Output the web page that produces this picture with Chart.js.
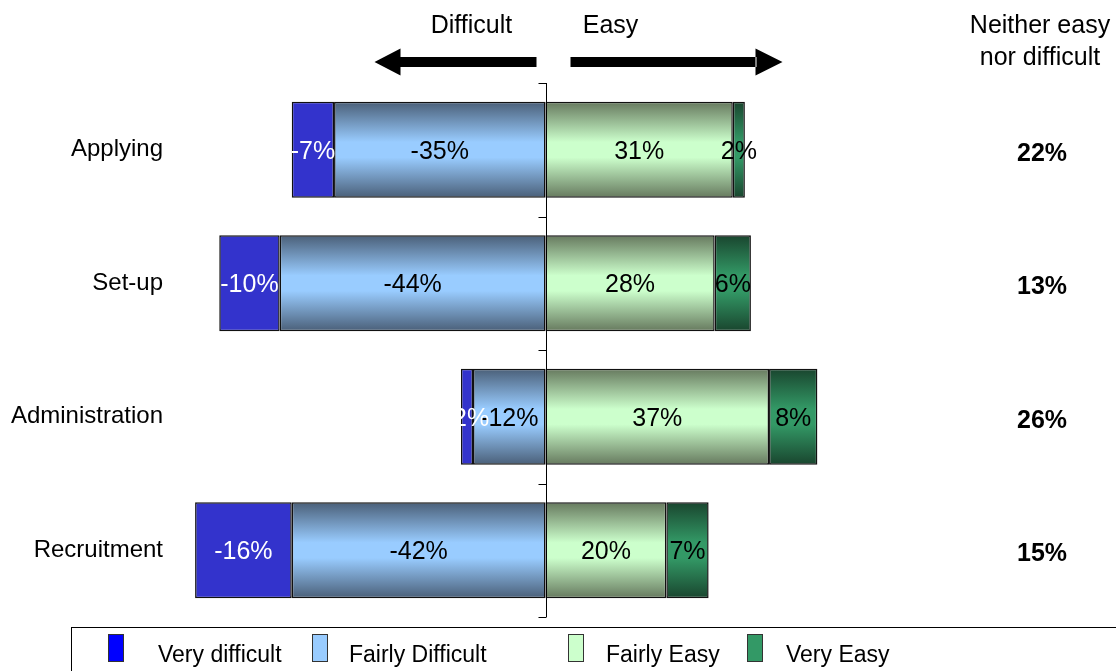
<!DOCTYPE html>
<html>
<head>
<meta charset="utf-8">
<script src="https://cdn.jsdelivr.net/npm/chart.js@4.4.1/dist/chart.umd.min.js"></script>
<style>
  html, body { margin: 0; padding: 0; background: #fff; }
  canvas { display: block; }
</style>
</head>
<body>
<canvas id="ratingChart" width="1116" height="671"></canvas>
<script>
var categories = ['Applying', 'Set-up', 'Administration', 'Recruitment'];
var veryDifficult = [-7, -10, -2, -16];
var fairlyDifficult = [-35, -44, -12, -42];
var fairlyEasy = [31, 28, 37, 20];
var veryEasy = [2, 6, 8, 7];
var neither = [22, 13, 26, 15];
var legendLabels = ['Very difficult', 'Fairly Difficult', 'Fairly Easy', 'Very Easy'];

var FONT = '"Liberation Sans", Arial, sans-serif';
var BAR_PCT = 0.72;

// vertical shading: dark at the bar edges, light band through the middle
function bandFill(dark, light) {
    return function (ctx) {
        var chart = ctx.chart;
        var y = chart.scales.y;
        if (!y || ctx.dataIndex === undefined || !chart.chartArea) return light;
        var c = y.getPixelForValue(ctx.dataIndex);
        var h = Math.abs(y.getPixelForValue(1) - y.getPixelForValue(0)) * BAR_PCT;
        var g = chart.ctx.createLinearGradient(0, c - h / 2, 0, c + h / 2);
        g.addColorStop(0, dark);
        g.addColorStop(0.42, light);
        g.addColorStop(0.58, light);
        g.addColorStop(1, dark);
        return g;
    };
}

// inner segments first so they stack next to zero
var datasets = [
    { label: legendLabels[1], data: fairlyDifficult, backgroundColor: bandFill('#4a5f78', '#99ccff'), legendColor: '#99ccff', textColor: '#000' },
    { label: legendLabels[0], data: veryDifficult, backgroundColor: '#3333cc', legendColor: '#0000ff', textColor: '#fff' },
    { label: legendLabels[2], data: fairlyEasy, backgroundColor: bandFill('#66795e', '#ccffcc'), legendColor: '#ccffcc', textColor: '#000' },
    { label: legendLabels[3], data: veryEasy, backgroundColor: bandFill('#19452e', '#339966'), legendColor: '#339966', textColor: '#000' }
];
datasets.forEach(function (d) {
    d.borderColor = '#111';
    d.borderWidth = 1.5;
    d.borderSkipped = false;
    d.categoryPercentage = 1;
    d.barPercentage = BAR_PCT;
});

var decorations = {
    id: 'decorations',
    afterDatasetsDraw: function (chart) {
        var ctx = chart.ctx;
        var x = chart.scales.x, y = chart.scales.y;
        var zero = Math.round(x.getPixelForValue(0)) + 0.5;
        var area = chart.chartArea;
        var step = (area.bottom - area.top) / categories.length;

        // centre axis with ticks between categories
        ctx.save();
        ctx.strokeStyle = '#000';
        ctx.lineWidth = 1;
        ctx.beginPath();
        ctx.moveTo(zero, area.top);
        ctx.lineTo(zero, area.bottom);
        for (var k = 0; k <= categories.length; k++) {
            var ty = Math.round(area.top + k * step) + 0.5;
            ctx.moveTo(zero - 8, ty);
            ctx.lineTo(zero, ty);
        }
        ctx.stroke();

        // segment value labels
        ctx.font = '25px ' + FONT;
        ctx.textAlign = 'center';
        ctx.textBaseline = 'middle';
        chart.data.datasets.forEach(function (ds, di) {
            var meta = chart.getDatasetMeta(di);
            ctx.fillStyle = ds.textColor;
            meta.data.forEach(function (bar, i) {
                ctx.fillText(ds.data[i] + '%', (bar.x + bar.base) / 2, bar.y + 2);
            });
        });

        // neither easy nor difficult column
        ctx.font = 'bold 25px ' + FONT;
        ctx.fillStyle = '#000';
        neither.forEach(function (v, i) {
            ctx.fillText(v + '%', 1042, y.getPixelForValue(i) + 4);
        });
        ctx.font = '25px ' + FONT;
        ctx.fillText('Neither easy', 1040, 26);
        ctx.fillText('nor difficult', 1040, 58);

        // direction headings and arrows
        ctx.fillText('Difficult', zero - 75, 26);
        ctx.fillText('Easy', zero + 64, 26);
        var ay = 62;
        ctx.beginPath();
        ctx.rect(zero - 146, ay - 5, 136, 10);
        ctx.moveTo(zero - 172, ay);
        ctx.lineTo(zero - 146, ay - 13.5);
        ctx.lineTo(zero - 146, ay + 13.5);
        ctx.closePath();
        ctx.rect(zero + 24, ay - 5, 186, 10);
        ctx.moveTo(zero + 236, ay);
        ctx.lineTo(zero + 209, ay - 13.5);
        ctx.lineTo(zero + 209, ay + 13.5);
        ctx.closePath();
        ctx.fill();

        // legend frame and entries
        ctx.strokeRect(71.5, 627.5, 1100, 100);
        var boxX = [108, 312, 568, 747];
        var textX = [158, 349, 606, 786];
        ctx.font = '23px ' + FONT;
        ctx.textAlign = 'left';
        legendLabels.forEach(function (label, i) {
            var ds = chart.data.datasets.filter(function (d) { return d.label === label; })[0];
            ctx.fillStyle = ds.legendColor;
            ctx.fillRect(boxX[i], 634, 16, 28);
            ctx.strokeStyle = '#333';
            ctx.strokeRect(boxX[i] + 0.5, 634.5, 15, 27);
            ctx.fillStyle = '#000';
            ctx.fillText(label, textX[i], 656);
        });
        ctx.restore();
    }
};

new Chart(document.getElementById('ratingChart'), {
    type: 'bar',
    data: { labels: categories, datasets: datasets },
    options: {
        indexAxis: 'y',
        responsive: false,
        animation: false,
        devicePixelRatio: 1,
        layout: { padding: { top: 83, right: 208, bottom: 54, left: 0 } },
        scales: {
            x: { stacked: true, min: -60, max: 60, display: false },
            y: {
                stacked: true,
                grid: { display: false },
                border: { display: false },
                ticks: { color: '#000', font: { family: FONT, size: 24 }, padding: 12 },
                afterFit: function (scale) { scale.width = 183; }
            }
        },
        plugins: { legend: { display: false }, tooltip: { enabled: false } }
    },
    plugins: [decorations]
});
</script>
</body>
</html>
